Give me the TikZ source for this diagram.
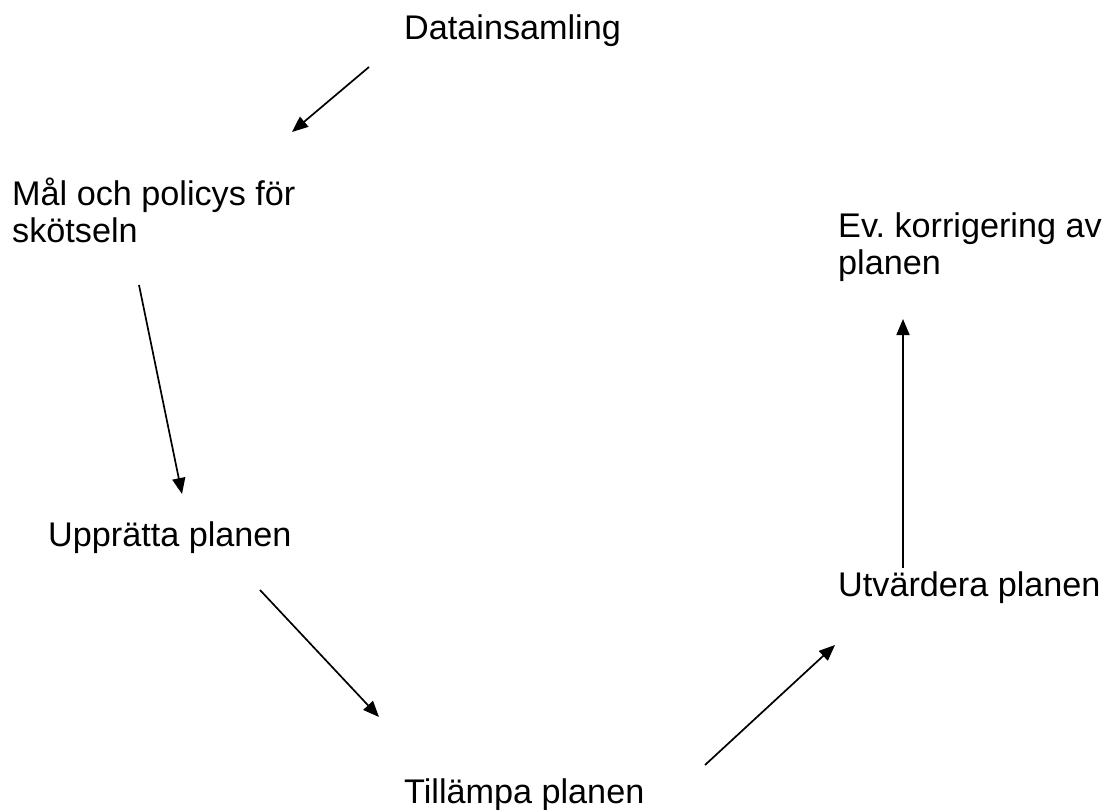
\documentclass[tikz,border=0pt]{standalone}
\usepackage{fontspec}
\setmainfont{Liberation Sans}
\usetikzlibrary{arrows.meta}
\frenchspacing

\begin{document}
\begin{tikzpicture}[x=1pt,y=-1pt,
	lbl/.style={anchor=base west, inner sep=0pt, align=left,
		font=\fontsize{34.2}{37}\selectfont},
	arr/.style={line width=1.7pt, -{Triangle[length=16pt,width=13pt]}}]
	\useasboundingbox (0,0) rectangle (1113,810);

	% the steps of the cycle (base = last line)
	\node[lbl] (data) at (404,40) {Datainsamling};
	\node[lbl] (mal) at (12,243) {Mål och policys för\\skötseln};
	\node[lbl] (uppratta) at (48,546) {Upprätta planen};
	\node[lbl] (tillampa) at (404,803) {Tillämpa planen};
	\node[lbl] (utvardera) at (838,596) {Utvärdera planen};
	\node[lbl] (korr) at (838,275) {Ev. korrigering av\\planen};

	% arrow ends
	\coordinate (a1s) at (369,67);   \coordinate (a1e) at (292,132);
	\coordinate (a2s) at (139,285);  \coordinate (a2e) at (182,494);
	\coordinate (a3s) at (260,590);  \coordinate (a3e) at (379,717);
	\coordinate (a4s) at (705,765);  \coordinate (a4e) at (835,645);
	\coordinate (a5s) at (903,568);  \coordinate (a5e) at (903,319);

	\draw[arr] (a1s) -- (a1e);
	\draw[arr] (a2s) -- (a2e);
	\draw[arr] (a3s) -- (a3e);
	\draw[arr] (a4s) -- (a4e);
	\draw[arr] (a5s) -- (a5e);
\end{tikzpicture}
\end{document}
